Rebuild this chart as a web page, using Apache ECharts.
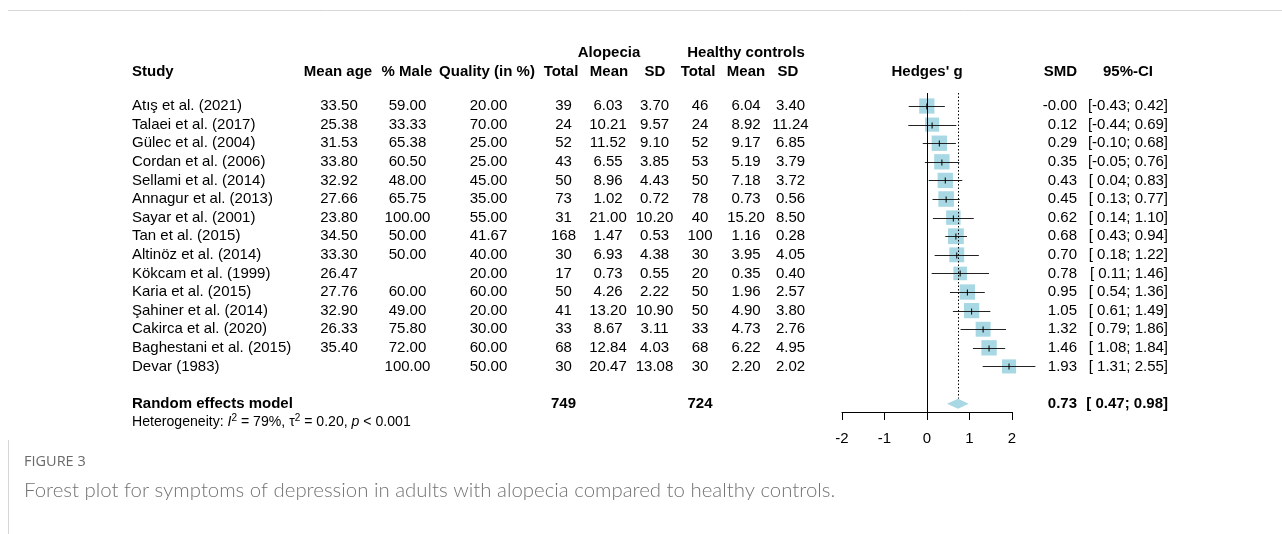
<!DOCTYPE html>
<html>
<head>
<meta charset="utf-8">
<script src="https://cdn.jsdelivr.net/npm/echarts@6/dist/echarts.min.js"></script>
<style>
  html, body { margin: 0; padding: 0; background: #fff; }
  #chart { width: 1282px; height: 534px; }
</style>
</head>
<body>
<div id="chart"></div>
<script>
// study rows
const studies = [
    'Atış et al. (2021)', 'Talaei et al. (2017)', 'Gülec et al. (2004)', 'Cordan et al. (2006)',
    'Sellami et al. (2014)', 'Annagur et al. (2013)', 'Sayar et al. (2001)', 'Tan et al. (2015)',
    'Altinöz et al. (2014)', 'Kökcam et al. (1999)', 'Karia et al. (2015)', 'Şahiner et al. (2014)',
    'Cakirca et al. (2020)', 'Baghestani et al. (2015)', 'Devar (1983)'
];
const meanAge = [33.50, 25.38, 31.53, 33.80, 32.92, 27.66, 23.80, 34.50, 33.30, 26.47, 27.76, 32.90, 26.33, 35.40, null];
const pctMale = [59.00, 33.33, 65.38, 60.50, 48.00, 65.75, 100.00, 50.00, 50.00, null, 60.00, 49.00, 75.80, 72.00, 100.00];
const quality = [20.00, 70.00, 25.00, 25.00, 45.00, 35.00, 55.00, 41.67, 40.00, 20.00, 60.00, 20.00, 30.00, 60.00, 50.00];

const aloTotal = [39, 24, 52, 43, 50, 73, 31, 168, 30, 17, 50, 41, 33, 68, 30];
const aloMean = [6.03, 10.21, 11.52, 6.55, 8.96, 1.02, 21.00, 1.47, 6.93, 0.73, 4.26, 13.20, 8.67, 12.84, 20.47];
const aloSD = [3.70, 9.57, 9.10, 3.85, 4.43, 0.72, 10.20, 0.53, 4.38, 0.55, 2.22, 10.90, 3.11, 4.03, 13.08];
const hcTotal = [46, 24, 52, 53, 50, 78, 40, 100, 30, 20, 50, 50, 33, 68, 30];
const hcMean = [6.04, 8.92, 9.17, 5.19, 7.18, 0.73, 15.20, 1.16, 3.95, 0.35, 1.96, 4.90, 4.73, 6.22, 2.20];
const hcSD = [3.40, 11.24, 6.85, 3.79, 3.72, 0.56, 8.50, 0.28, 4.05, 0.40, 2.57, 3.80, 2.76, 4.95, 2.02];

const smd = [-0.004, 0.12, 0.29, 0.35, 0.43, 0.45, 0.62, 0.68, 0.70, 0.78, 0.95, 1.05, 1.32, 1.46, 1.93];
const ciLow = [-0.43, -0.44, -0.10, -0.05, 0.04, 0.13, 0.14, 0.43, 0.18, 0.11, 0.54, 0.61, 0.79, 1.08, 1.31];
const ciHigh = [0.42, 0.69, 0.68, 0.76, 0.83, 0.77, 1.10, 0.94, 1.22, 1.46, 1.36, 1.49, 1.86, 1.84, 2.55];
// random-effects weights (%), estimated from square sizes
const weights = [6.9, 5.9, 7.0, 7.0, 7.0, 7.2, 6.2, 7.4, 6.6, 5.5, 7.0, 6.9, 6.6, 7.0, 5.9];

// pooled result
const pooled = { label: 'Random effects model', aloTotal: 749, hcTotal: 724, smd: 0.73, low: 0.47, high: 0.98 };
const heterogeneity = 'Heterogeneity: {i|I}{s|2} = 79%, τ{s|2} = 0.20, {i|p} < 0.001';

const xTicks = [-2, -1, 0, 1, 2];

const FONT = '"Liberation Sans", Arial, sans-serif';
const POOLED_ROW = 16;

const fmt = v => (v === null || v === undefined) ? '' : v.toFixed(2);
const fmtCI = (lo, hi) => '[' + (lo < 0 ? lo.toFixed(2) : ' ' + lo.toFixed(2)) + '; ' + hi.toFixed(2) + ']';

// column x positions (pixels) and alignment
const columns = [
    { x: 132, align: 'left', get: i => studies[i] },
    { x: 339, align: 'center', get: i => fmt(meanAge[i]) },
    { x: 407.5, align: 'center', get: i => fmt(pctMale[i]) },
    { x: 488.5, align: 'center', get: i => fmt(quality[i]) },
    { x: 563.5, align: 'center', get: i => String(aloTotal[i]) },
    { x: 608, align: 'center', get: i => fmt(aloMean[i]) },
    { x: 654.5, align: 'center', get: i => fmt(aloSD[i]) },
    { x: 700, align: 'center', get: i => String(hcTotal[i]) },
    { x: 746, align: 'center', get: i => fmt(hcMean[i]) },
    { x: 790.5, align: 'center', get: i => fmt(hcSD[i]) },
    { x: 1077, align: 'right', get: i => fmt(smd[i]) },
    { x: 1168, align: 'right', get: i => fmtCI(ciLow[i], ciHigh[i]) }
];

function txt(text, x, y, align, bold, size) {
    return {
        type: 'text',
        style: {
            text, x, y,
            align,
            verticalAlign: 'middle',
            fill: '#000',
            font: (bold ? 'bold ' : '') + (size || 15) + 'px ' + FONT
        }
    };
}

const chart = echarts.init(document.getElementById('chart'));

const tableSeries = {
    type: 'custom',
    silent: true,
    data: studies.map((s, i) => [0, i]),
    renderItem: (params, api) => {
        const i = params.dataIndex;
        const y = api.coord([0, api.value(1)])[1];
        return {
            type: 'group',
            children: columns.map(c => txt(c.get(i), c.x, y, c.align, false))
        };
    }
};

const pooledTextSeries = {
    type: 'custom',
    silent: true,
    data: [[0, POOLED_ROW]],
    renderItem: (params, api) => {
        const y = api.coord([0, api.value(1)])[1];
        return {
            type: 'group',
            children: [
                txt(pooled.label, 132, y, 'left', true),
                txt(String(pooled.aloTotal), 563.5, y, 'center', true),
                txt(String(pooled.hcTotal), 700, y, 'center', true),
                txt(pooled.smd.toFixed(2), 1077, y, 'right', true),
                txt(fmtCI(pooled.low, pooled.high), 1168, y, 'right', true)
            ]
        };
    }
};

const squareSeries = {
    type: 'custom',
    silent: true,
    data: studies.map((s, i) => [smd[i], i, ciLow[i], ciHigh[i], weights[i]]),
    renderItem: (params, api) => {
        const p = api.coord([api.value(0), api.value(1)]);
        const lo = api.coord([api.value(2), api.value(1)]);
        const hi = api.coord([api.value(3), api.value(1)]);
        const size = Math.sqrt(api.value(4)) * 5.8;
        const yy = Math.round(p[1]) + 0.5;
        return {
            type: 'group',
            children: [
                { type: 'rect', shape: { x: p[0] - size / 2, y: p[1] - size / 2, width: size, height: size },
                  style: { fill: '#a8d8e4' } },
                { type: 'line', shape: { x1: lo[0], y1: yy, x2: hi[0], y2: yy },
                  style: { stroke: '#222', lineWidth: 1 } },
                { type: 'line', shape: { x1: p[0], y1: yy - 3, x2: p[0], y2: yy + 3 },
                  style: { stroke: '#000', lineWidth: 1 } }
            ]
        };
    }
};

const pooledMarkSeries = {
    type: 'custom',
    silent: true,
    data: [[pooled.smd, POOLED_ROW, pooled.low, pooled.high]],
    renderItem: (params, api) => {
        const p = api.coord([api.value(0), api.value(1)]);
        const lo = api.coord([api.value(2), api.value(1)]);
        const hi = api.coord([api.value(3), api.value(1)]);
        const top = api.coord([api.value(0), -0.7]);
        const x0 = api.coord([0, -0.7]);
        const bottom = api.coord([0, 16.45]);
        const zx = Math.round(x0[0]) + 0.5;
        const dx = Math.round(p[0]) + 0.5;
        return {
            type: 'group',
            children: [
                { type: 'line', shape: { x1: zx, y1: x0[1], x2: zx, y2: bottom[1] },
                  style: { stroke: '#000', lineWidth: 1 } },
                { type: 'line', shape: { x1: dx, y1: top[1], x2: dx, y2: p[1] - 5 },
                  style: { stroke: '#000', lineWidth: 1, lineDash: [1.5, 2] } },
                { type: 'polygon', shape: { points: [[lo[0], p[1]], [p[0], p[1] - 5], [hi[0], p[1]], [p[0], p[1] + 5]] },
                  style: { fill: '#a8d8e4' } }
            ]
        };
    }
};

function header(text, x, y, align) {
    return {
        type: 'text', x, y,
        style: { text, align: align, verticalAlign: 'middle', fill: '#000', font: 'bold 15px ' + FONT }
    };
}

const HY = 71.5;
const graphics = [
    // frame lines
    { type: 'line', shape: { x1: 8, y1: 10.5, x2: 1282, y2: 10.5 }, style: { stroke: '#d6d6d6', lineWidth: 1 } },
    { type: 'line', shape: { x1: 8.5, y1: 440, x2: 8.5, y2: 534 }, style: { stroke: '#d6d6d6', lineWidth: 1 } },
    header('Alopecia', 609, 53, 'center'),
    header('Healthy controls', 746, 53, 'center'),
    header('Study', 132, HY, 'left'),
    header('Mean age', 338, HY, 'center'),
    header('% Male', 407, HY, 'center'),
    header('Quality (in %)', 487, HY, 'center'),
    header('Total', 561, HY, 'center'),
    header('Mean', 609, HY, 'center'),
    header('SD', 655, HY, 'center'),
    header('Total', 698, HY, 'center'),
    header('Mean', 746, HY, 'center'),
    header('SD', 788, HY, 'center'),
    header("Hedges' g", 927, HY, 'center'),
    header('SMD', 1077, HY, 'right'),
    header('95%-CI', 1128, HY, 'center'),
    {
        type: 'text', x: 132, y: 422,
        style: {
            text: heterogeneity,
            verticalAlign: 'middle',
            fill: '#000',
            font: '14.1px ' + FONT,
            rich: {
                i: { fontStyle: 'italic', fontSize: 14.1, fontFamily: FONT },
                s: { fontSize: 10, fontFamily: FONT, verticalAlign: 'top', padding: [0, 0, 8, 0] }
            }
        }
    },
    {
        type: 'text', x: 24, y: 462,
        style: { text: 'FIGURE 3', verticalAlign: 'middle', fill: '#6a6a6a', font: '14.5px "Liberation Sans Narrow", "Open Sans", sans-serif' }
    },
    {
        type: 'text', x: 24, y: 490,
        style: {
            text: 'Forest plot for symptoms of depression in adults with alopecia compared to healthy controls.',
            verticalAlign: 'middle', fill: '#737373', font: '300 20.4px Lato, "Open Sans", sans-serif'
        }
    }
];

const option = {
    animation: false,
    grid: { left: 842, right: 270, top: 93, bottom: 122 },
    xAxis: {
        type: 'value',
        min: xTicks[0],
        max: xTicks[xTicks.length - 1],
        interval: 1,
        splitLine: { show: false },
        axisLine: { show: true, onZero: false, lineStyle: { color: '#000', width: 1 } },
        axisTick: { show: true, length: 8, lineStyle: { color: '#000' } },
        axisLabel: { color: '#000', fontSize: 15, fontFamily: FONT, margin: 19 }
    },
    yAxis: {
        type: 'value',
        min: -0.7,
        max: 16.45,
        inverse: true,
        show: false
    },
    graphic: graphics,
    series: [squareSeries, pooledMarkSeries, tableSeries, pooledTextSeries]
};

chart.setOption(option);
</script>
</body>
</html>
